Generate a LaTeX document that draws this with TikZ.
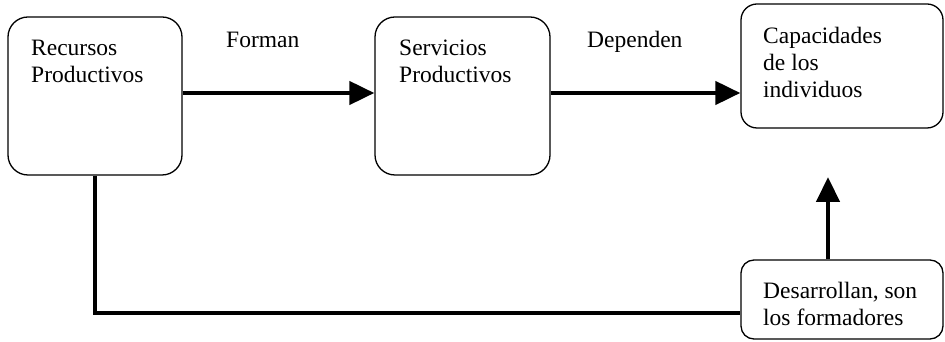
\documentclass[tikz,border=0pt]{standalone}
\usepackage{fontspec}
\setmainfont{Liberation Serif}
\usetikzlibrary{arrows.meta,calc}
\begin{document}
\begin{tikzpicture}[x=1pt,y=1pt,
  box/.style={draw=black,line width=1.3pt,fill=white,inner sep=0pt},
  boxtext/.style={anchor=north west,inner sep=0pt,align=left,
    font=\fontsize{23.5}{27}\selectfont},
  lbl/.style={anchor=base west,inner sep=0pt,font=\fontsize{23.5}{27}\selectfont},
  flow/.style={line width=4.4pt,-{Triangle[length=25pt,width=23pt]}},
  link/.style={line width=4.4pt}]
\useasboundingbox (0,0) rectangle (945,342);

% boxes
\node[box,rounded corners=20pt,minimum width=174pt,minimum height=158pt] (b1) at (95,246) {};
\node[box,rounded corners=20pt,minimum width=175pt,minimum height=158pt] (b2) at (462.5,246) {};
\node[box,rounded corners=16pt,minimum width=202pt,minimum height=124pt] (b3) at (842,276) {};
\node[box,rounded corners=13pt,minimum width=202pt,minimum height=79pt] (b4) at (842,42.5) {};

% box texts
\node[boxtext] (t1) at (31,302) {Recursos\\Productivos};
\node[boxtext] (t2) at (399,302) {Servicios\\Productivos};
\node[boxtext] (t3) at (763,315) {Capacidades\\de los\\individuos};
\node[boxtext] (t4) at (763,60) {Desarrollan, son\\los formadores};

% connector labels
\node[lbl] (l1) at (226,294) {Forman};
\node[lbl] (l2) at (587,294) {Dependen};

% connectors
\coordinate (tip) at (828,165);
\draw[flow] ([yshift=3pt]b1.east) -- ([yshift=3pt]b2.west);
\draw[flow] ([yshift=3pt]b2.east) -- ([yshift=3pt]b2.east -| b3.west);
\draw[flow] (tip |- b4.north) -- (tip);
\draw[link] (b1.south) |- ([yshift=-13.5pt]b4.west);
\end{tikzpicture}
\end{document}
